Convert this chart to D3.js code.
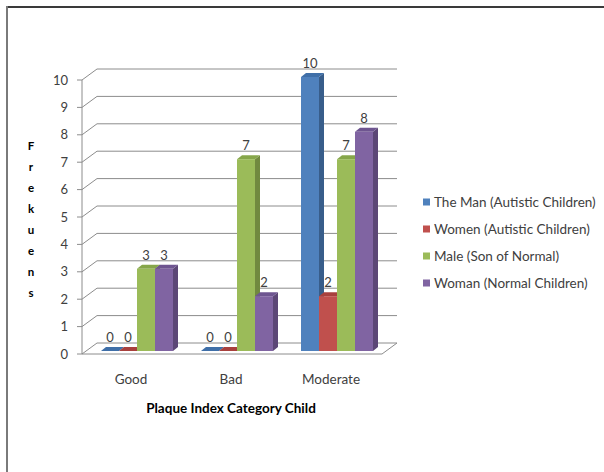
<!DOCTYPE html>
<html>
<head>
<meta charset="utf-8">
<title>Plaque Index Category Child</title>
<script src="https://d3js.org/d3.v7.min.js"></script>
<style>
  body { margin: 0; background: #fff; }
  svg text { font-family: Lato, "Open Sans", sans-serif; }
</style>
</head>
<body>
<svg id="chart" width="604" height="472"></svg>
<script>
// data
var categories = ["Good", "Bad", "Moderate"];
var seriesNames = ["The Man (Autistic Children)", "Women (Autistic Children)", "Male (Son of Normal)", "Woman (Normal Children)"];
var theMan = [0, 0, 10];
var women = [0, 0, 2];
var male = [3, 7, 7];
var woman = [3, 2, 8];
var yTicks = [0, 1, 2, 3, 4, 5, 6, 7, 8, 9, 10];

var values = [theMan, women, male, woman];
var fronts = ["#4F81BD", "#C0504D", "#9BBB59", "#8064A2"];
var sides = ["#385D8A", "#8C3836", "#71893F", "#5C4776"];
var tops = ["#3F6FA8", "#A8403D", "#86A64A", "#6E5590"];

var svg = d3.select("#chart");

// frame
svg.append("line").attr("x1", 6).attr("y1", 7).attr("x2", 604).attr("y2", 7)
  .attr("stroke", "#3a3a3a").attr("stroke-width", 2);
svg.append("line").attr("x1", 7).attr("y1", 6).attr("x2", 7).attr("y2", 472)
  .attr("stroke", "#7a7a7a").attr("stroke-width", 2);

// scales
var y = d3.scaleLinear().domain([0, 10]).range([354, 80]);
var x0 = d3.scaleBand().domain(categories).range([83, 383]).paddingInner(0.28).paddingOuter(0.14);
var x1 = d3.scaleBand().domain(d3.range(seriesNames.length)).range([0, x0.bandwidth()]);

var depthX = 15, depthY = -11;   // back wall offset
var barOffX = 4, barOffY = -3;   // bars sit a bit behind the front
var barDX = 5, barDY = -4;       // bar thickness

var axisX = 82, wallRight = 397;

// gridlines (side wall diagonal + back wall)
var grid = svg.append("g");
yTicks.forEach(function(t) {
  if (t === 0) return;
  grid.append("polyline")
    .attr("points", [[axisX, y(t)], [axisX + depthX, y(t) + depthY], [wallRight, y(t) + depthY]].join(" "))
    .attr("fill", "none").attr("stroke", "#8c8c8c").attr("stroke-width", 1);
});

// floor
var y0 = y(0);
svg.append("path")
  .attr("d", "M" + axisX + "," + y0 + "L" + (wallRight - depthX) + "," + y0 +
    "L" + wallRight + "," + (y0 + depthY) + "L" + (axisX + depthX) + "," + (y0 + depthY) + "Z")
  .attr("fill", "#fff").attr("stroke", "#8c8c8c").attr("stroke-width", 1);

// y axis
svg.append("line").attr("x1", axisX).attr("y1", y(10)).attr("x2", axisX).attr("y2", y0)
  .attr("stroke", "#8c8c8c");
yTicks.forEach(function(t) {
  svg.append("line").attr("x1", axisX - 5).attr("x2", axisX).attr("y1", y(t)).attr("y2", y(t))
    .attr("stroke", "#8c8c8c");
  svg.append("text").attr("x", 68).attr("y", y(t) + 4.5)
    .attr("text-anchor", "end").attr("font-size", 13).attr("fill", "#404040").text(t);
});

// bars
var bars = svg.append("g");
categories.forEach(function(c, ci) {
  values.forEach(function(vals, si) {
    var v = vals[ci];
    var xl = x0(c) + x1(si) + barOffX;
    var w = x1.bandwidth();
    var yb = y(0) + barOffY;
    var yt = y(v) + barOffY;
    var g = bars.append("g");
    // side face
    g.append("path")
      .attr("d", "M" + (xl + w) + "," + yb + "L" + (xl + w + barDX) + "," + (yb + barDY) +
        "L" + (xl + w + barDX) + "," + (yt + barDY) + "L" + (xl + w) + "," + yt + "Z")
      .attr("fill", sides[si]);
    // top face
    g.append("path")
      .attr("d", "M" + xl + "," + yt + "L" + (xl + barDX) + "," + (yt + barDY) +
        "L" + (xl + w + barDX) + "," + (yt + barDY) + "L" + (xl + w) + "," + yt + "Z")
      .attr("fill", tops[si]);
    // front face
    g.append("rect").attr("x", xl).attr("y", yt).attr("width", w).attr("height", yb - yt)
      .attr("fill", fronts[si]);
    // value label
    g.append("text").attr("x", xl + w / 2).attr("y", yt - 9)
      .attr("text-anchor", "middle").attr("font-size", 13).attr("fill", "#404040").text(v);
  });
});

// category labels
categories.forEach(function(c) {
  svg.append("text").attr("x", x0(c) + x0.bandwidth() / 2 - 2).attr("y", 384)
    .attr("text-anchor", "middle").attr("font-size", 13.5).attr("fill", "#404040").text(c);
});

// axis titles
svg.append("text").attr("x", 231).attr("y", 413).attr("text-anchor", "middle")
  .attr("font-size", 13.5).attr("font-weight", "bold").attr("fill", "#000")
  .text("Plaque Index Category Child");

"Frekuens".split("").forEach(function(ch, i) {
  svg.append("text").attr("x", 31).attr("y", 150 + i * 21).attr("text-anchor", "middle")
    .attr("font-size", 11.5).attr("font-weight", "bold").attr("fill", "#000").text(ch);
});

// legend
var legend = svg.append("g");
seriesNames.forEach(function(n, i) {
  var ly = 202 + i * 27;
  legend.append("rect").attr("x", 423).attr("y", ly - 3.5).attr("width", 7).attr("height", 7)
    .attr("fill", fronts[i]);
  legend.append("text").attr("x", 434).attr("y", ly + 5).attr("font-size", 13.5)
    .attr("fill", "#404040").text(n);
});
</script>
</body>
</html>
